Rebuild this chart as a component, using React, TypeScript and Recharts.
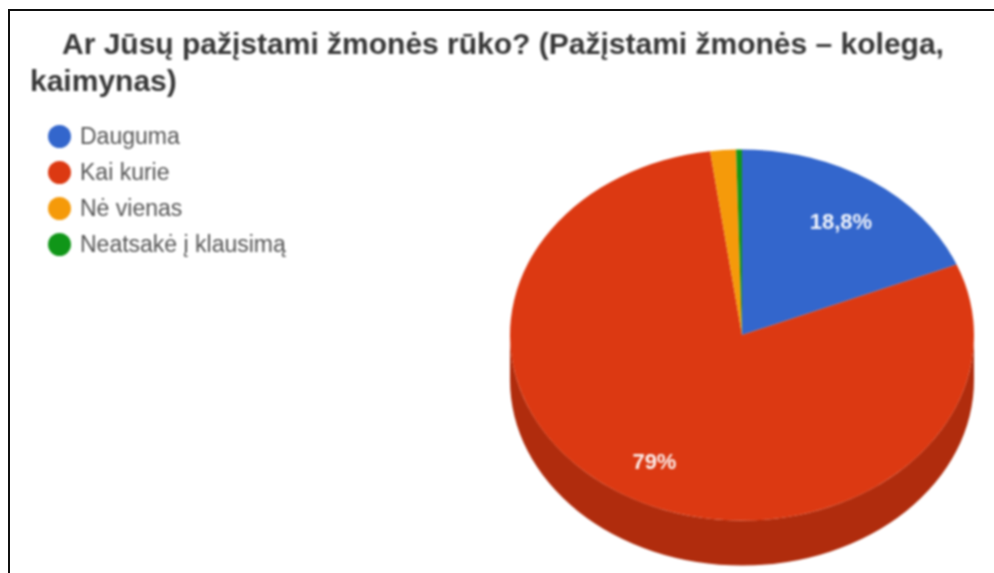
import React from "react";
import { PieChart, Pie, Legend } from "recharts";

const categories = ["Dauguma", "Kai kurie", "Nė vienas", "Neatsakė į klausimą"];
const values = [18.8, 79, 1.8, 0.4];
const topColors = ["#3366cc", "#dc3912", "#f59a0a", "#109618"];
const wallColors = ["#264d99", "#b02c0d", "#b87308", "#0c7112"];
const sliceLabels = ["18,8%", "79%", "", ""];
const titleLines = ["Ar Jūsų pažįstami žmonės rūko? (Pažįstami žmonės – kolega,", "kaimynas)"];

const topData = categories.map((name, i) => ({ name, value: values[i], fill: topColors[i] }));

const SQUASH = 0.8;
const DEPTH = 45;
const labelReach = [0.75, 0.775, 0.7, 0.7];
const FONT = "'Liberation Sans', Arial, sans-serif";

const pt = (cx: number, cy: number, r: number, deg: number, dy = 0) => {
  const a = (deg * Math.PI) / 180;
  return [cx + r * Math.cos(a), cy - r * SQUASH * Math.sin(a) + dy];
};

const Slice3D = (p: any) => {
  const { cx, cy, outerRadius: r, startAngle, endAngle, fill, name } = p;
  const ry = r * SQUASH;
  const [x1, y1] = pt(cx, cy, r, startAngle);
  const [x2, y2] = pt(cx, cy, r, endAngle);
  const large = Math.abs(startAngle - endAngle) > 180 ? 1 : 0;
  const top = `M${cx},${cy}L${x1},${y1}A${r},${ry} 0 ${large} 1 ${x2},${y2}Z`;
  const a1 = Math.min(startAngle, 0);
  const a2 = Math.max(endAngle, -180);
  let wall = "";
  if (a1 > a2) {
    const [wx1, wy1] = pt(cx, cy, r, a1);
    const [wx2, wy2] = pt(cx, cy, r, a2);
    const [wx3, wy3] = pt(cx, cy, r, a2, DEPTH);
    const [wx4, wy4] = pt(cx, cy, r, a1, DEPTH);
    wall = `M${wx1},${wy1}A${r},${ry} 0 0 1 ${wx2},${wy2}L${wx3},${wy3}A${r},${ry} 0 0 0 ${wx4},${wy4}Z`;
  }
  return (
    <g>
      {wall ? <path d={wall} fill={wallColors[categories.indexOf(name)]} /> : null}
      <path d={top} fill={fill} />
    </g>
  );
};

const SliceLabel = (p: any) => {
  const { cx, cy, outerRadius: r, midAngle, index } = p;
  const text = sliceLabels[index];
  if (!text) return null;
  const [x, y] = pt(cx, cy, r * labelReach[index], midAngle);
  return (
    <text x={x + 2} y={y + 2} fill="#ffffff" fillOpacity={0.92} textAnchor="middle" dominantBaseline="central"
      fontFamily={FONT} fontSize={22} fontWeight={700}>
      {text}
    </text>
  );
};

const LegendList = (p: any) => (
  <ul style={{ listStyle: "none", margin: 0, padding: 0 }}>
    {(p.payload || []).map((e: any) => (
      <li key={e.value} style={{ display: "flex", alignItems: "center", height: 36 }}>
        <svg width={23} height={23} style={{ marginRight: 9 }}>
          <circle cx={11.5} cy={11.5} r={11.5} fill={e.color} />
        </svg>
        <span style={{ color: "#555", fontSize: 23, fontFamily: FONT }}>{e.value}</span>
      </li>
    ))}
  </ul>
);

const titleStyle: React.CSSProperties = {
  position: "absolute", fontFamily: FONT, fontWeight: 700, fontSize: 30, lineHeight: "36px", color: "#383838", whiteSpace: "nowrap",
};

export default function App() {
  return (
    <div style={{ position: "absolute", left: 0, top: 0, width: 994, height: 573, overflow: "hidden", background: "#fff" }}>
      <div style={{ position: "absolute", left: 0, top: 0, width: 994, height: 573, filter: "blur(0.9px)" }}>
        <div style={{ ...titleStyle, left: 62, top: 26 }}>{titleLines[0]}</div>
        <div style={{ ...titleStyle, left: 30, top: 63 }}>{titleLines[1]}</div>
        <PieChart width={994} height={573} style={{ position: "absolute", left: 0, top: 0 }}>
          <Pie data={topData} dataKey="value" nameKey="name" cx={737} cy={330} outerRadius={232} startAngle={90} endAngle={-270}
            stroke="none" label={SliceLabel} labelLine={false} shape={Slice3D} isAnimationActive={false} />
          <Legend layout="vertical" align="center" verticalAlign="middle" content={LegendList} itemSorter={null}
            wrapperStyle={{ position: "absolute", left: 48, top: 118, width: 320 }} />
        </PieChart>
      </div>
      <div style={{ position: "absolute", left: 8, top: 9, width: 986, height: 564, boxSizing: "border-box", borderLeft: "2px solid #111", borderTop: "2px solid #111" }} />
    </div>
  );
}
